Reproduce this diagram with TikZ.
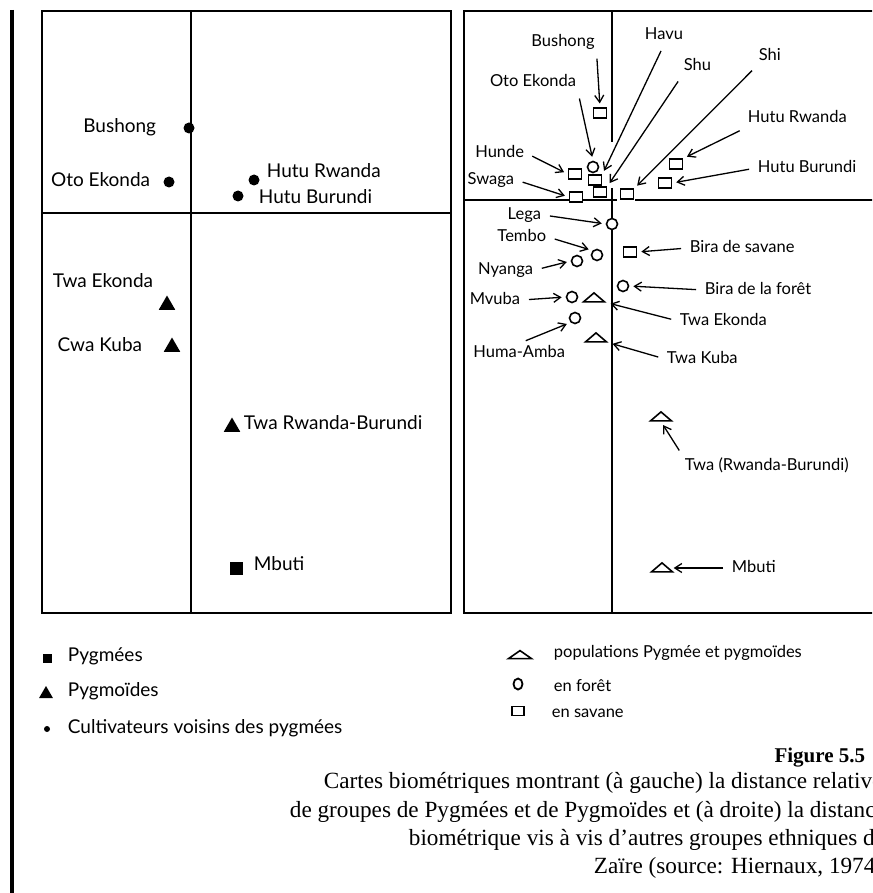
\documentclass[tikz,border=0pt]{standalone}
\usepackage{fontspec}
\setmainfont{Liberation Serif}
\newfontfamily\gillfont{Lato}
\usetikzlibrary{positioning,arrows.meta,shapes.geometric}
\tikzset {
    style dot/.style={
        circle, % Set the shape as a circle
        fill=black,
        inner sep=0pt,
        minimum size=11pt,
    },
    style tri/.style={
        regular polygon, regular polygon sides=3,
        fill=black,
        inner sep=0pt,
        minimum size=19pt,
    },
    style blk/.style={
        rectangle, % Set the shape as a rectangle
        fill=black,
        inner sep=0pt,
        minimum size=13pt,
    },
    style ring/.style={
        circle,
        draw=black, fill=white,
        line width=1.6pt,
        inner sep=0pt,
        minimum size=11pt,
    },
    style box/.style={
        rectangle, % Set the shape as a rectangle
        draw=black, fill=white,
        line width=1.6pt,
        inner sep=0pt,
        minimum width=13pt, minimum height=9.5pt,
    },
    style flat/.style={
        isosceles triangle, isosceles triangle stretches,
        shape border rotate=90,
        draw=black, fill=white,
        line width=1.6pt,
        inner sep=0pt,
        minimum width=21pt, minimum height=9pt,
    },
    style L/.style={
        font=\gillfont\fontsize{19}{19}\selectfont,
        inner sep=1pt, text height=13pt, text depth=4pt,
    },
    style R/.style={
        font=\gillfont\fontsize{16.5}{16.5}\selectfont,
        inner sep=1pt, text height=12pt, text depth=3.5pt,
    },
    style cap/.style={
        font=\fontsize{23.2}{23.2}\selectfont,
        inner sep=0pt, anchor=base west,
    },
    pointer/.style={
        line width=1.3pt, -{Straight Barb[length=7pt,width=9pt]},
        shorten <=7pt, shorten >=4pt,
    },
}
\begin{document}
\begin{tikzpicture}
[x=1pt, y=-1pt, line width=1.8pt]
\useasboundingbox (0, 0) rectangle (872, 893);
\clip (0, 0) rectangle (872, 893);

\draw[line width=3.5pt] (12, 10) -- (12, 893);

% left map
\draw (42, 11) rectangle (451, 613);
\draw (191, 11) -- (191, 613);
\draw (42, 213) -- (451, 213);

\node[style dot] at (189, 128) (bushongL) {};
\node[style dot] at (169, 182) (otoL) {};
\node[style dot] at (254, 180) (hutuRL) {};
\node[style dot] at (238, 196) (hutuBL) {};
\node[style tri] at (167, 305) (twaEL) {};
\node[style tri] at (172, 347) (cwaKL) {};
\node[style tri] at (232, 427) (twaRBL) {};
\node[style blk] at (236, 568) (mbutiL) {};

\node[style L, anchor=east] at (158, 128) (bushongLt) {Bushong};
\node[style L, anchor=east] at (152, 182) (otoLt) {Oto Ekonda};
\node[style L, anchor=west] at (265, 173) (hutuRLt) {Hutu Rwanda};
\node[style L, anchor=west] at (257, 199) (hutuBLt) {Hutu Burundi};
\node[style L, anchor=east] at (155, 283) (twaELt) {Twa Ekonda};
\node[style L, anchor=east] at (144, 347) (cwaKLt) {Cwa Kuba};
\node[style L, anchor=west] at (242, 425) (twaRBLt) {Twa Rwanda-Burundi};
\node[style L, anchor=west] at (252, 566) (mbutiLt) {Mbuti};

% right map
\draw (880, 11) -- (464, 11) -- (464, 613) -- (880, 613);
\draw (612, 11) -- (612, 142);
\draw (612, 188) -- (612, 613);
\draw (464, 200) -- (617, 200);
\draw (635, 200) -- (880, 200);

\node[style box] at (600, 113) (sqBushong) {};
\node[style ring] at (593, 167) (cOto) {};
\node[style box] at (575, 174) (sqHunde) {};
\node[style box] at (576, 197) (sqSwaga) {};
\node[style box] at (595, 180) (sqHavu) {};
\node[style box] at (600, 192) (sqShu) {};
\node[style box] at (627, 194) (sqShi) {};
\node[style box] at (676, 164) (sqHutuR) {};
\node[style box] at (665, 183) (sqHutuB) {};
\node[style ring] at (612, 224) (cLega) {};
\node[style ring] at (597, 255) (cTembo) {};
\node[style ring] at (577, 261) (cNyanga) {};
\node[style box] at (630, 252) (sqBira) {};
\node[style ring] at (623, 286) (cBira) {};
\node[style ring] at (572, 297) (cMvuba) {};
\node[style flat] at (594, 298) (trTwaE) {};
\node[style ring] at (575, 318) (cHuma) {};
\node[style flat] at (596, 338) (trTwaK) {};
\node[style flat] at (661, 417) (trTwaRB) {};
\node[style flat] at (662, 568) (trMbuti) {};

\node[style R] at (563, 42) (bushongR) {Bushong};
\node[style R] at (533, 82) (otoR) {Oto Ekonda};
\node[style R] at (664, 35) (havuR) {Havu};
\node[style R, anchor=west] at (682, 66) (shuR) {Shu};
\node[style R, anchor=west] at (757, 56) (shiR) {Shi};
\node[style R, anchor=west] at (746, 118) (hutuRR) {Hutu Rwanda};
\node[style R, anchor=west] at (756, 168) (hutuBR) {Hutu Burundi};
\node[style R, anchor=east] at (526, 153) (hundeR) {Hunde};
\node[style R, anchor=east] at (516, 180) (swagaR) {Swaga};
\node[style R, anchor=east] at (543, 215) (legaR) {Lega};
\node[style R, anchor=east] at (548, 237) (temboR) {Tembo};
\node[style R, anchor=east] at (535, 270) (nyangaR) {Nyanga};
\node[style R, anchor=west] at (688, 248) (biraSR) {Bira de savane};
\node[style R, anchor=west] at (703, 290) (biraFR) {Bira de la forêt};
\node[style R, anchor=east] at (522, 300) (mvubaR) {Mvuba};
\node[style R, anchor=west] at (678, 321) (twaER) {Twa Ekonda};
\node[style R, anchor=east] at (567, 353) (humaR) {Huma-Amba};
\node[style R, anchor=west] at (665, 359) (twaKR) {Twa Kuba};
\node[style R, anchor=west] at (683, 466) (twaRBR) {Twa (Rwanda-Burundi)};
\node[style R, anchor=west] at (730, 568) (mbutiR) {Mbuti};

\draw[pointer] (bushongR.south east) -- (sqBushong.north);
\draw[pointer] (otoR.south east) -- (cOto.north);
\draw[pointer] (havuR.south) -- (sqHavu.north east);
\draw[pointer] (shuR.south west) -- (sqShu.north east);
\draw[pointer] (shiR.south west) -- (sqShi.north east);
\draw[pointer] (hutuRR.south west) -- (sqHutuR.north east);
\draw[pointer] (hutuBR.west) -- (sqHutuB.east);
\draw[pointer] (hundeR.east) -- (sqHunde.west);
\draw[pointer] (swagaR.east) -- (sqSwaga.west);
\draw[pointer] (legaR.east) -- (cLega.west);
\draw[pointer] (temboR.east) -- (cTembo.north west);
\draw[pointer] (nyangaR.east) -- (cNyanga.west);
\draw[pointer] (biraSR.west) -- (sqBira.east);
\draw[pointer] (biraFR.west) -- (cBira.east);
\draw[pointer] (mvubaR.east) -- (cMvuba.west);
\draw[pointer] (twaER.west) -- ([xshift=8pt]trTwaE.south east);
\draw[pointer] (humaR.north) -- (cHuma.south west);
\draw[pointer] (twaKR.west) -- ([xshift=8pt]trTwaK.south east);
\draw[pointer] (twaRBR.north west) -- (trTwaRB.south);
\draw[pointer] (mbutiR.west) -- (trMbuti.east);

% legend
\node[style blk, minimum size=9pt] at (47, 658) (kPyg) {};
\node[style tri, minimum size=16pt] at (46, 694) (kPygm) {};
\node[style dot, minimum size=6pt] at (47, 729) (kCult) {};
\node[style L, anchor=west] at (66, 657) (kPygt) {Pygmées};
\node[style L, anchor=west] at (66, 692) (kPygmt) {Pygmoïdes};
\node[style L, anchor=west] at (66, 729) (kCultt) {Cultivateurs voisins des pygmées};

\node[style flat, minimum width=23pt, minimum height=8pt] at (520, 655) (kTri) {};
\node[ellipse, draw, line width=1.8pt, inner sep=0pt, minimum width=9pt, minimum height=11pt] at (518, 684) (kRing) {};
\node[style box, minimum width=12pt, minimum height=9pt] at (518, 711) (kBox) {};
\node[style R, anchor=west] at (552, 653) (kTrit) {populations Pygmée et pygmoïdes};
\node[style R, anchor=west] at (552, 687) (kRingt) {en forêt};
\node[style R, anchor=west] at (550, 713) (kBoxt) {en savane};

% caption
\node[style cap, anchor=base east, font=\fontsize{21}{21}\selectfont\bfseries] at (866, 762) (fig) {Figure 5.5};
\node[style cap] at (323, 788) (capA) {Cartes biométriques montrant (à gauche) la distance relative};
\node[style cap] at (289, 817) (capB) {de groupes de Pygmées et de Pygmoïdes et (à droite) la distance};
\node[style cap] at (408, 845) (capC) {biométrique vis à vis d’autres groupes ethniques du};
\node[style cap] at (593, 873) (capD) {Zaïre (source: Hiernaux, 1974)};
\end{tikzpicture}
\end{document}
